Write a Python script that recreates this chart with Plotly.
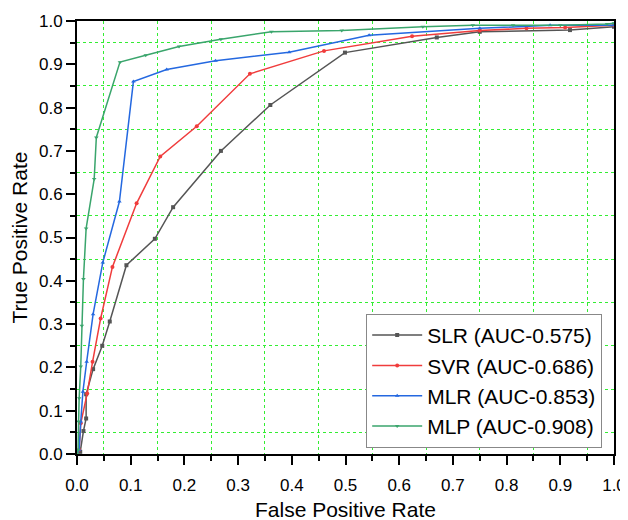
import plotly.graph_objects as go

# ROC points
slr_fpr = [0.0, 0.006, 0.012, 0.017, 0.017, 0.030, 0.047, 0.061, 0.092, 0.145, 0.179, 0.268, 0.36, 0.499, 0.67, 0.75, 0.918, 1.0]
slr_tpr = [0.0, 0.005, 0.053, 0.082, 0.138, 0.196, 0.25, 0.306, 0.436, 0.497, 0.57, 0.70, 0.806, 0.927, 0.962, 0.975, 0.979, 0.987]

svr_fpr = [0.0, 0.004, 0.007, 0.019, 0.029, 0.044, 0.066, 0.111, 0.155, 0.223, 0.322, 0.46, 0.624, 0.75, 0.837, 0.909, 1.0]
svr_tpr = [0.0, 0.01, 0.071, 0.14, 0.213, 0.313, 0.432, 0.579, 0.687, 0.757, 0.878, 0.931, 0.965, 0.978, 0.983, 0.985, 0.99]

mlr_fpr = [0.0, 0.004, 0.007, 0.011, 0.018, 0.030, 0.048, 0.079, 0.105, 0.167, 0.258, 0.395, 0.544, 0.75, 0.881, 1.0]
mlr_tpr = [0.0, 0.01, 0.075, 0.144, 0.213, 0.323, 0.442, 0.583, 0.86, 0.888, 0.908, 0.928, 0.967, 0.983, 0.99, 0.99]

mlp_fpr = [0.0, 0.002, 0.003, 0.004, 0.007, 0.009, 0.012, 0.017, 0.032, 0.036, 0.08, 0.128, 0.19, 0.268, 0.362, 0.493, 0.644, 0.737, 0.812, 0.9, 0.987, 1.0]
mlp_tpr = [0.0, 0.01, 0.075, 0.129, 0.202, 0.296, 0.404, 0.521, 0.635, 0.731, 0.905, 0.921, 0.941, 0.958, 0.975, 0.978, 0.987, 0.99, 0.99, 0.99, 0.993, 0.995]

names = ["SLR (AUC-0.575)", "SVR (AUC-0.686)", "MLR (AUC-0.853)", "MLP (AUC-0.908)"]
colors = ["#555555", "#f03c3c", "#2468e0", "#3aa56c"]
symbols = ["square", "circle", "triangle-up", "triangle-down"]

FONT = "Liberation Sans, Arial"

fig = go.Figure()
for name, xs, ys, c, s in zip(names, [slr_fpr, svr_fpr, mlr_fpr, mlp_fpr],
                              [slr_tpr, svr_tpr, mlr_tpr, mlp_tpr], colors, symbols):
    fig.add_trace(go.Scatter(x=xs, y=ys, name=name, mode="lines+markers",
                             line=dict(color=c, width=1.5),
                             marker=dict(color=c, symbol=s, size=4)))

axis = dict(
    range=[0, 1.0], dtick=0.1, tickformat=".1f", showgrid=False, zeroline=False,
    automargin=False, ticklabeloverflow="allow",
    showline=True, linecolor="black", linewidth=2, mirror=True,
    ticks="outside", ticklen=9, tickwidth=1.5, tickcolor="black",
    tickfont=dict(family=FONT, size=17, color="black"),
    minor=dict(dtick=0.05, showgrid=True, gridcolor="#33ee33", griddash="dot",
               gridwidth=1, ticks="outside", ticklen=5, tickcolor="black"),
)

# the page body adds an 8px offset, so margins are shifted by that much
fig.update_layout(
    width=620, height=512,
    margin=dict(l=69, r=14, t=13, b=66),
    plot_bgcolor="white", paper_bgcolor="white",
    xaxis=dict(axis, ticklabelstandoff=6),
    yaxis=dict(axis, title=dict(text="True Positive Rate",
                                font=dict(family=FONT, size=21, color="black"))),
    legend=dict(x=0.978, y=0.014, xanchor="right", yanchor="bottom",
                bgcolor="white", bordercolor="#888888", borderwidth=1,
                font=dict(family=FONT, size=21, color="black"),
                itemwidth=50, tracegroupgap=0),
    showlegend=True,
)

# x-axis title placed by hand so it sits low like the original
fig.add_annotation(text="False Positive Rate", xref="paper", yref="paper",
                   x=0.5, y=0, xanchor="center", yanchor="bottom", yshift=-69,
                   showarrow=False, font=dict(family=FONT, size=21, color="black"))

fig.write_html("out.html")
